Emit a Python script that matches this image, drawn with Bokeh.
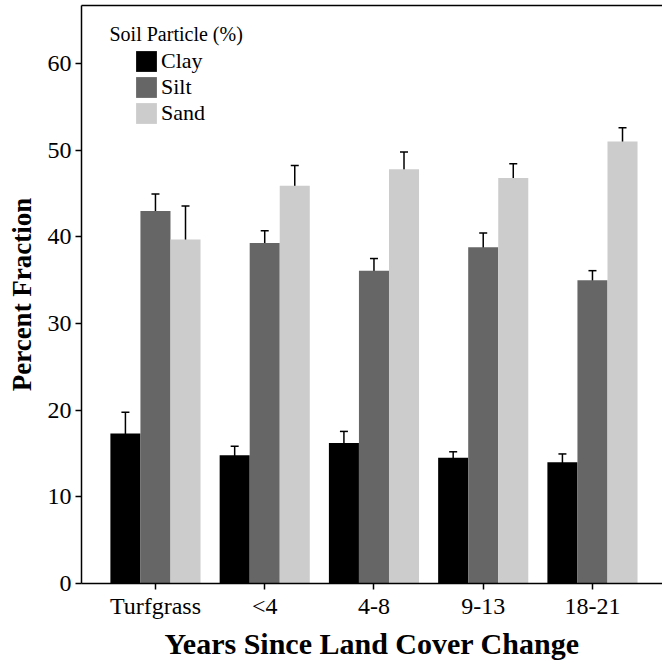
from bokeh.plotting import figure
from bokeh.models import (ColumnDataSource, Whisker, TeeHead, Legend, LegendItem,
                          LinearAxis, FixedTicker, Label, Range1d)
from bokeh.transform import dodge
from bokeh.embed import file_html
from bokeh.resources import INLINE

# Soil particle size fractions (%) by years since land cover change
categories = ["Turfgrass", "<4", "4-8", "9-13", "18-21"]
clay = [17.3, 14.8, 16.2, 14.5, 14.0]
clay_err = [2.45, 1.05, 1.35, 0.7, 0.95]
silt = [43.0, 39.3, 36.1, 38.8, 35.0]
silt_err = [1.95, 1.4, 1.4, 1.65, 1.1]
sand = [39.7, 45.9, 47.8, 46.8, 51.0]
sand_err = [3.85, 2.35, 2.0, 1.65, 1.6]
y_ticks = [0, 10, 20, 30, 40, 50, 60]

SERIF = "Liberation Serif"
BAR_W = 0.275

idx = list(range(len(categories)))
data = dict(x=idx)
for name, vals, errs in (("clay", clay, clay_err), ("silt", silt, silt_err), ("sand", sand, sand_err)):
    data[name] = vals
    data[name + "_hi"] = [v + e for v, e in zip(vals, errs)]
    data[name + "_lo"] = [v - e for v, e in zip(vals, errs)]
src = ColumnDataSource(data)

p = figure(width=662, height=663, output_backend="svg", toolbar_location=None,
           x_range=Range1d(-0.677, 4.641), y_range=Range1d(0, 66.7),
           min_border_left=81, min_border_right=0, min_border_top=5, min_border_bottom=80)
p.outline_line_color = None
p.xgrid.visible = False
p.ygrid.visible = False
p.background_fill_color = "white"
p.border_fill_color = "white"

series = [("clay", -BAR_W, "#000000", "Clay"),
          ("silt", 0.0, "#666666", "Silt"),
          ("sand", BAR_W, "#cccccc", "Sand")]
items = []
for key, off, col, lab in series:
    r = p.vbar(x=dodge("x", off, range=p.x_range), top=key, width=BAR_W, bottom=0,
               source=src, fill_color=col, line_color=None)
    items.append(LegendItem(label=lab, renderers=[r]))
for key, off, col, lab in series:
    p.add_layout(Whisker(base=dodge("x", off, range=p.x_range), upper=key + "_hi",
                         lower=key + "_lo", source=src, line_color="black", line_width=1.5,
                         upper_head=TeeHead(size=8, line_color="black", line_width=1.5),
                         lower_head=TeeHead(size=8, line_color="black", line_width=1.5)))

# axes
for ax in (p.xaxis[0], p.yaxis[0]):
    ax.axis_line_width = 1.5
    ax.axis_line_color = "black"
    ax.major_tick_line_color = "black"
    ax.major_tick_line_width = 1.5
    ax.major_tick_in = 0
    ax.major_tick_out = 6
    ax.minor_tick_line_color = None
    ax.major_label_text_font = SERIF
    ax.major_label_text_font_size = "24px"
    ax.major_label_text_color = "black"
    ax.axis_label_text_font = SERIF
    ax.axis_label_text_font_style = "bold"
    ax.axis_label_text_color = "black"

p.xaxis.ticker = FixedTicker(ticks=idx)
p.xaxis.major_label_overrides = {i: c for i, c in zip(idx, categories)}
p.xaxis.major_label_standoff = 3
p.xaxis.axis_label = "Years Since Land Cover Change"
p.xaxis.axis_label_text_font_size = "30px"
p.xaxis.axis_label_standoff = 5

p.yaxis.ticker = FixedTicker(ticks=y_ticks)
p.yaxis.major_label_standoff = 4
p.yaxis.axis_label = "Percent Fraction"
p.yaxis.axis_label_text_font_size = "27px"
p.yaxis.axis_label_standoff = 8

# top border line of the frame
top = LinearAxis(ticker=FixedTicker(ticks=[]), axis_line_width=1.5, axis_line_color="black",
                 major_tick_line_color=None, minor_tick_line_color=None,
                 major_label_standoff=0, major_tick_out=0, major_tick_in=0)
p.add_layout(top, "above")

legend = Legend(items=items, location=(52, 457), orientation="vertical",
                background_fill_alpha=0, border_line_color=None,
                padding=0, margin=0, spacing=0,
                glyph_width=26, glyph_height=26, label_standoff=2,
                label_text_font=SERIF, label_text_font_size="22px", label_text_color="black")
p.add_layout(legend)

p.add_layout(Label(x=28, y=550, x_units="screen", y_units="screen",
                   text="Soil Particle (%)", text_font=SERIF, text_font_size="20px",
                   text_color="black", text_baseline="alphabetic"))

open("out.html", "w").write(file_html(p, INLINE))
